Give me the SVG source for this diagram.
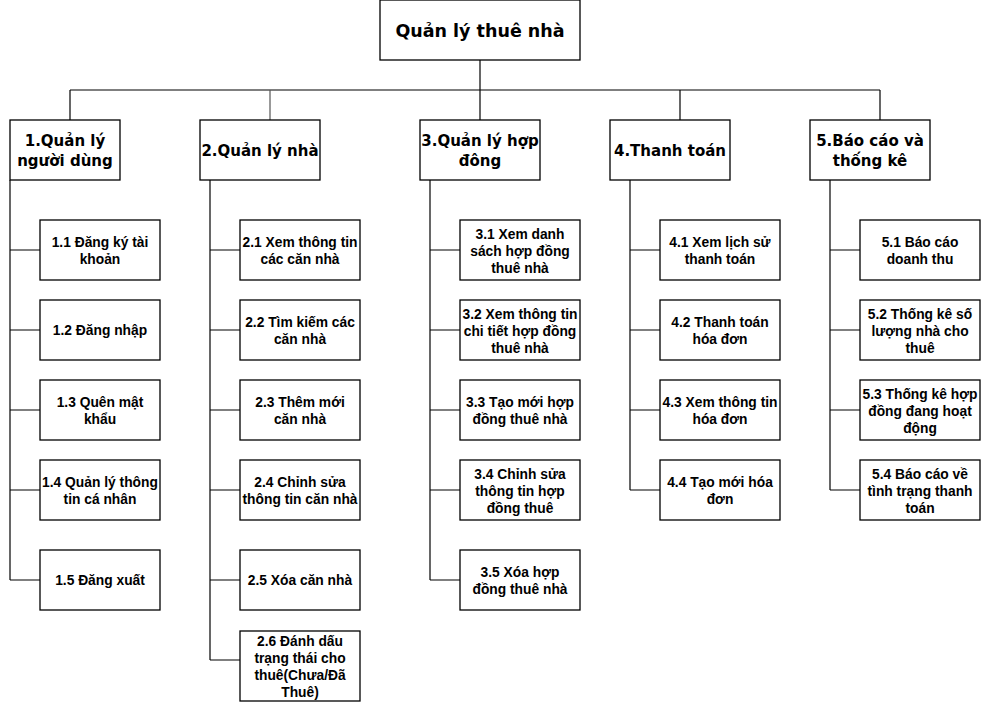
<svg xmlns="http://www.w3.org/2000/svg" width="982" height="702" viewBox="0 0 982 702">
<style>
rect{fill:#fff;stroke:#000;stroke-width:1.3}
.c path{fill:none;stroke:#000;stroke-width:1.2}
.t0{font-family:"DejaVu Sans",Verdana,sans-serif;font-weight:bold;font-size:17.5px;text-anchor:middle;fill:#000}
.t1{font-family:"DejaVu Sans",Verdana,sans-serif;font-weight:bold;font-size:15px;text-anchor:middle;fill:#000}
.t2{font-family:"Liberation Sans",Arial,sans-serif;font-weight:bold;font-size:13.8px;text-anchor:middle;fill:#000}
</style>
<rect x="0" y="0" width="982" height="702" style="stroke:none"/>
<g class="c" id="connectors">
<path d="M70 90H880"/>
<path d="M480 60V120"/>
<path d="M70 90V120"/>
<path d="M270 90V121" style="stroke:#555"/>
<path d="M680 90V120"/>
<path d="M880 90V120"/>
<path d="M10 180V580"/>
<path d="M10 250H40M10 330H40M10 410H40M10 490H40M10 580H40"/>
<path d="M210 180V660"/>
<path d="M210 250H240M210 330H240M210 410H240M210 490H240M210 580H240M210 660H240"/>
<path d="M430 180V580"/>
<path d="M430 250H460M430 330H460M430 410H460M430 490H460M430 580H460"/>
<path d="M630 180V490"/>
<path d="M630 250H660M630 330H660M630 410H660M630 490H660"/>
<path d="M830 180V490"/>
<path d="M830 250H860M830 330H860M830 410H860M830 490H860"/>
</g>
<g id="root"><rect x="380" y="0" width="200" height="60"/><text class="t0" x="480" y="37">Quản lý thuê nhà</text></g>
<g id="n1"><rect x="10" y="120" width="110" height="60"/><text class="t1" x="65" y="146">1.Quản lý</text><text class="t1" x="65" y="166">người dùng</text></g>
<g id="n2"><rect x="200" y="120" width="120" height="60"/><text class="t1" x="260" y="156">2.Quản lý nhà</text></g>
<g id="n3"><rect x="420" y="120" width="120" height="60"/><text class="t1" x="480" y="146">3.Quản lý hợp</text><text class="t1" x="480" y="166">đông</text></g>
<g id="n4"><rect x="610" y="120" width="120" height="60"/><text class="t1" x="670" y="156">4.Thanh toán</text></g>
<g id="n5"><rect x="810" y="120" width="120" height="60"/><text class="t1" x="870" y="146">5.Báo cáo và</text><text class="t1" x="870" y="166">thống kê</text></g>

<g id="n1_1"><rect x="40" y="220" width="120" height="60"/><text class="t2" x="100" y="247">1.1 Đăng ký tài</text><text class="t2" x="100" y="264">khoản</text></g>
<g id="n1_2"><rect x="40" y="300" width="120" height="60"/><text class="t2" x="100" y="335">1.2 Đăng nhập</text></g>
<g id="n1_3"><rect x="40" y="380" width="120" height="60"/><text class="t2" x="100" y="407">1.3 Quên mật</text><text class="t2" x="100" y="424">khẩu</text></g>
<g id="n1_4"><rect x="40" y="460" width="120" height="60"/><text class="t2" x="100" y="487">1.4 Quản lý thông</text><text class="t2" x="100" y="504">tin cá nhân</text></g>
<g id="n1_5"><rect x="40" y="550" width="120" height="60"/><text class="t2" x="100" y="585">1.5 Đăng xuất</text></g>

<g id="n2_1"><rect x="240" y="220" width="120" height="60"/><text class="t2" x="300" y="247">2.1 Xem thông tin</text><text class="t2" x="300" y="264">các căn nhà</text></g>
<g id="n2_2"><rect x="240" y="300" width="120" height="60"/><text class="t2" x="300" y="327">2.2 Tìm kiếm các</text><text class="t2" x="300" y="344">căn nhà</text></g>
<g id="n2_3"><rect x="240" y="380" width="120" height="60"/><text class="t2" x="300" y="407">2.3 Thêm mới</text><text class="t2" x="300" y="424">căn nhà</text></g>
<g id="n2_4"><rect x="240" y="460" width="120" height="60"/><text class="t2" x="300" y="487">2.4 Chỉnh sửa</text><text class="t2" x="300" y="504">thông tin căn nhà</text></g>
<g id="n2_5"><rect x="240" y="550" width="120" height="60"/><text class="t2" x="300" y="585">2.5 Xóa căn nhà</text></g>
<g id="n2_6"><rect x="240" y="631" width="120" height="70"/><text class="t2" x="300" y="646">2.6 Đánh dấu</text><text class="t2" x="300" y="663">trạng thái cho</text><text class="t2" x="300" y="680">thuê(Chưa/Đã</text><text class="t2" x="300" y="697">Thuê)</text></g>

<g id="n3_1"><rect x="460" y="220" width="120" height="60"/><text class="t2" x="520" y="239">3.1 Xem danh</text><text class="t2" x="520" y="256">sách hợp đồng</text><text class="t2" x="520" y="273">thuê nhà</text></g>
<g id="n3_2"><rect x="460" y="300" width="120" height="60"/><text class="t2" x="520" y="319">3.2 Xem thông tin</text><text class="t2" x="520" y="336">chi tiết hợp đồng</text><text class="t2" x="520" y="353">thuê nhà</text></g>
<g id="n3_3"><rect x="460" y="380" width="120" height="60"/><text class="t2" x="520" y="407">3.3 Tạo mới hợp</text><text class="t2" x="520" y="424">đồng thuê nhà</text></g>
<g id="n3_4"><rect x="460" y="460" width="120" height="60"/><text class="t2" x="520" y="479">3.4 Chỉnh sửa</text><text class="t2" x="520" y="496">thông tin hợp</text><text class="t2" x="520" y="513">đồng thuê</text></g>
<g id="n3_5"><rect x="460" y="550" width="120" height="60"/><text class="t2" x="520" y="577">3.5 Xóa hợp</text><text class="t2" x="520" y="594">đồng thuê nhà</text></g>

<g id="n4_1"><rect x="660" y="220" width="120" height="60"/><text class="t2" x="720" y="247">4.1 Xem lịch sử</text><text class="t2" x="720" y="264">thanh toán</text></g>
<g id="n4_2"><rect x="660" y="300" width="120" height="60"/><text class="t2" x="720" y="327">4.2 Thanh toán</text><text class="t2" x="720" y="344">hóa đơn</text></g>
<g id="n4_3"><rect x="660" y="380" width="120" height="60"/><text class="t2" x="720" y="407">4.3 Xem thông tin</text><text class="t2" x="720" y="424">hóa đơn</text></g>
<g id="n4_4"><rect x="660" y="460" width="120" height="60"/><text class="t2" x="720" y="487">4.4 Tạo mới hóa</text><text class="t2" x="720" y="504">đơn</text></g>

<g id="n5_1"><rect x="860" y="220" width="120" height="60"/><text class="t2" x="920" y="247">5.1 Báo cáo</text><text class="t2" x="920" y="264">doanh thu</text></g>
<g id="n5_2"><rect x="860" y="300" width="120" height="60"/><text class="t2" x="920" y="319">5.2 Thống kê số</text><text class="t2" x="920" y="336">lượng nhà cho</text><text class="t2" x="920" y="353">thuê</text></g>
<g id="n5_3"><rect x="860" y="380" width="120" height="60"/><text class="t2" x="920" y="399">5.3 Thống kê hợp</text><text class="t2" x="920" y="416">đồng đang hoạt</text><text class="t2" x="920" y="433">động</text></g>
<g id="n5_4"><rect x="860" y="460" width="120" height="60"/><text class="t2" x="920" y="479">5.4 Báo cáo về</text><text class="t2" x="920" y="496">tình trạng thanh</text><text class="t2" x="920" y="513">toán</text></g>
</svg>
